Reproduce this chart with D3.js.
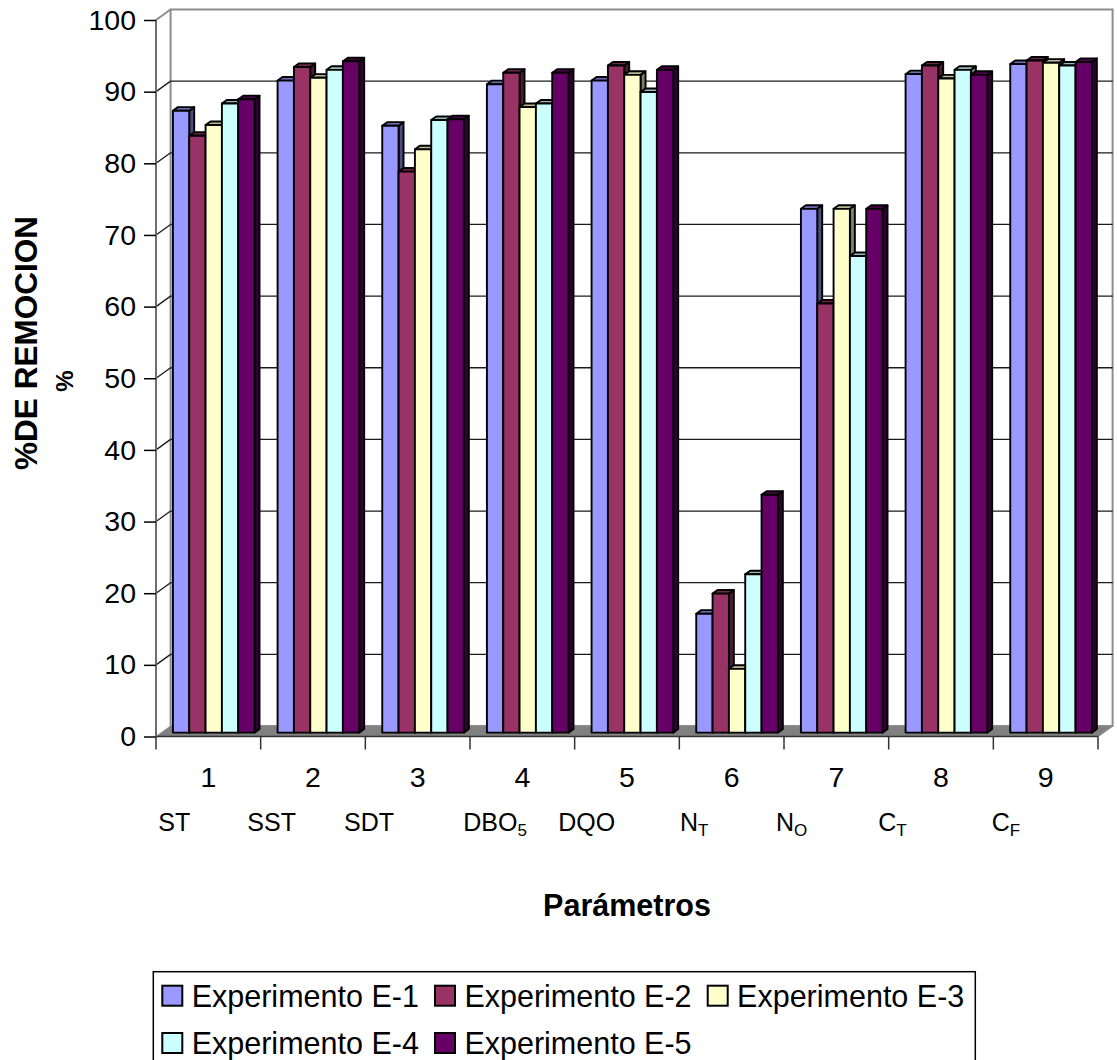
<!DOCTYPE html>
<html>
<head>
<meta charset="utf-8">
<script src="https://cdn.jsdelivr.net/npm/d3@7"></script>
<style>
  html, body { margin: 0; padding: 0; background: #fff; }
  svg { display: block; font-family: Arial, "Liberation Sans", sans-serif; }
</style>
</head>
<body>
<svg id="chart" width="1117" height="1060"></svg>
<script>
// Category numbers along the floor
const categories = ["1", "2", "3", "4", "5", "6", "7", "8", "9"];
// Parameter names written under each number: [main text, subscript]
const paramNames = [["ST", ""], ["SST", ""], ["SDT", ""], ["DBO", "5"], ["DQO", ""],
                    ["N", "T"], ["N", "O"], ["C", "T"], ["C", "F"]];
const seriesNames = ["Experimento E-1", "Experimento E-2", "Experimento E-3",
                     "Experimento E-4", "Experimento E-5"];
// % removal per experiment
const e1 = [86.8, 91.0, 84.7, 90.5, 91.0, 16.6, 73.1, 91.9, 93.3];
const e2 = [83.3, 92.9, 78.3, 92.1, 93.1, 19.4, 59.9, 93.1, 93.8];
const e3 = [84.8, 91.4, 81.4, 87.3, 91.8,  8.9, 73.1, 91.3, 93.5];
const e4 = [87.8, 92.5, 85.5, 87.8, 89.4, 22.1, 66.5, 92.5, 93.1];
const e5 = [88.4, 93.7, 85.6, 92.1, 92.5, 33.2, 73.1, 91.8, 93.6];
const yTicks = [0, 10, 20, 30, 40, 50, 60, 70, 80, 90, 100];

const seriesValues = [e1, e2, e3, e4, e5];
const seriesColors = ["#9999FF", "#993366", "#FFFFCC", "#CCFFFF", "#660066"];

// ---- layout ----
const FONT = 'Arial, "Liberation Sans", sans-serif';
const DX = 14.6, DY = -10.5;        // full depth offset of the 3D box
const barD0 = 0.37, barD1 = 0.71;   // bars occupy this slice of the depth
const paramLabelX = [158.3, 247.3, 344, 463.3, 558.3, 680, 776, 878.3, 991.7];

const svg = d3.select("#chart");

const x = d3.scaleBand().domain(categories).range([156, 1098]).paddingInner(0).paddingOuter(0);
const xi = d3.scaleBand().domain(seriesNames).range([0, x.bandwidth()])
  .paddingInner(0).paddingOuter(0.705);
const y = d3.scaleLinear().domain([0, 100]).range([736.5, 20]);

const x0 = x.range()[0], x1 = x.range()[1];
const pt = (px, py, d) => [px + d * DX, py + d * DY];
const poly = pts => pts.map(p => p.join(",")).join(" ");

// back wall
const bw = [pt(x0, y(100), 1), pt(x1, y(100), 1), pt(x1, y(0), 1), pt(x0, y(0), 1)];
svg.append("polygon").attr("points", poly(bw)).attr("fill", "#fff")
  .attr("stroke", "#8c8c8c").attr("stroke-width", 2);

// gridlines on back wall and left side wall
yTicks.filter(t => t > 0 && t < 100).forEach(t => {
  const a = pt(x0, y(t), 1), b = pt(x1, y(t), 1), f = pt(x0, y(t), 0);
  svg.append("line").attr("x1", a[0]).attr("y1", a[1]).attr("x2", b[0]).attr("y2", b[1])
    .attr("stroke", "#1a1a1a").attr("stroke-width", 1.3);
  svg.append("line").attr("x1", f[0]).attr("y1", f[1]).attr("x2", a[0]).attr("y2", a[1])
    .attr("stroke", "#1a1a1a").attr("stroke-width", 1.3);
});
// top edge of left wall
{
  const f = pt(x0, y(100), 0), a = pt(x0, y(100), 1);
  svg.append("line").attr("x1", f[0]).attr("y1", f[1]).attr("x2", a[0]).attr("y2", a[1])
    .attr("stroke", "#8c8c8c").attr("stroke-width", 2);
}

// floor
const floorPts = [pt(x0, y(0), 0), pt(x1, y(0), 0), pt(x1, y(0), 1), pt(x0, y(0), 1)];
svg.append("polygon").attr("points", poly(floorPts)).attr("fill", "#808080")
  .attr("stroke", "#8c8c8c").attr("stroke-width", 1);

// bars, drawn left to right so each bar hides its neighbour's side face
const shade = (c, k) => { const r = d3.rgb(c); return d3.rgb(r.r * k, r.g * k, r.b * k).toString(); };
const dd = barD1 - barD0;
const bars = [];
categories.forEach((c, ci) => {
  seriesNames.forEach((s, si) => {
    bars.push({ cat: c, series: s, value: seriesValues[si][ci], color: seriesColors[si] });
  });
});
const barG = svg.append("g");
bars.forEach(b => {
  const bx = x(b.cat) + xi(b.series) + barD0 * DX;
  const w = xi.bandwidth();
  const yt = y(b.value) + barD0 * DY;
  const yb = y(0) + barD0 * DY;
  const g = barG.append("g").attr("stroke", "#000").attr("stroke-width", 1.9)
    .attr("stroke-linejoin", "round");
  g.append("polygon").attr("fill", shade(b.color, 0.5))
    .attr("points", poly([[bx + w, yt], [bx + w + dd * DX, yt + dd * DY], [bx + w + dd * DX, yb + dd * DY], [bx + w, yb]]));
  g.append("polygon").attr("fill", shade(b.color, 0.72))
    .attr("points", poly([[bx, yt], [bx + w, yt], [bx + w + dd * DX, yt + dd * DY], [bx + dd * DX, yt + dd * DY]]));
  g.append("rect").attr("x", bx).attr("y", yt).attr("width", w).attr("height", yb - yt)
    .attr("fill", b.color);
});

// front vertical axis line
svg.append("line").attr("x1", x0).attr("y1", y(100)).attr("x2", x0).attr("y2", y(0))
  .attr("stroke", "#6e6e6e").attr("stroke-width", 2);

// value axis
const yAxis = svg.append("g").attr("transform", `translate(${x0},0)`)
  .call(d3.axisLeft(y).tickValues(yTicks).tickSize(12).tickPadding(8).tickSizeOuter(0));
yAxis.select(".domain").remove();
yAxis.selectAll(".tick line").attr("stroke", "#000").attr("stroke-width", 1.5);
yAxis.selectAll(".tick text").attr("font-size", 28.5).attr("font-family", FONT).attr("fill", "#000");

// category axis: front floor edge, boundary ticks, centred numbers
svg.append("line").attr("x1", x0).attr("y1", y(0)).attr("x2", x1).attr("y2", y(0))
  .attr("stroke", "#333").attr("stroke-width", 1.5);
{
  const r = pt(x1, y(0), 0), rb = pt(x1, y(0), 1);
  svg.append("line").attr("x1", r[0]).attr("y1", r[1]).attr("x2", rb[0]).attr("y2", rb[1])
    .attr("stroke", "#8c8c8c").attr("stroke-width", 1.5);
}
const bounds = categories.map(c => x(c)).concat([x1]);
svg.append("g").selectAll("line").data(bounds).join("line")
  .attr("x1", d => d).attr("x2", d => d).attr("y1", y(0)).attr("y2", y(0) + 13)
  .attr("stroke", "#333").attr("stroke-width", 1.5);
svg.append("g").selectAll("text").data(categories).join("text")
  .attr("x", d => x(d) + x.bandwidth() / 2).attr("y", 786.7)
  .attr("text-anchor", "middle").attr("font-size", 28.5).attr("font-family", FONT)
  .text(d => d);

// parameter names with subscripts
const pl = svg.append("g").attr("font-family", FONT).attr("fill", "#000");
paramNames.forEach((p, i) => {
  const t = pl.append("text").attr("x", paramLabelX[i]).attr("y", 830.7).attr("font-size", 25);
  t.append("tspan").text(p[0]);
  if (p[1]) t.append("tspan").attr("font-size", 17).attr("dy", 5).text(p[1]);
});

// axis titles
svg.append("text").attr("transform", "translate(37,343) rotate(-90)")
  .attr("text-anchor", "middle").attr("font-size", 31.5).attr("font-weight", "bold")
  .attr("font-family", FONT).text("%DE REMOCION");
svg.append("text").attr("transform", "translate(73,381) rotate(-90)")
  .attr("text-anchor", "middle").attr("font-size", 24).attr("font-weight", "bold")
  .attr("font-family", FONT).text("%");
svg.append("text").attr("x", 627).attr("y", 916).attr("text-anchor", "middle")
  .attr("font-size", 30.5).attr("font-weight", "bold").attr("font-family", FONT)
  .text("Parámetros");

// legend
const lg = svg.append("g");
lg.append("rect").attr("x", 153.3).attr("y", 971.7).attr("width", 822).attr("height", 120)
  .attr("fill", "#fff").attr("stroke", "#000").attr("stroke-width", 1.5);
seriesNames.forEach((s, i) => {
  const col = i % 3, row = Math.floor(i / 3);
  const lx = 162.3 + col * 272.7, ly = 985.7 + row * 47.3;
  lg.append("rect").attr("x", lx).attr("y", ly).attr("width", 20).attr("height", 20)
    .attr("fill", seriesColors[i]).attr("stroke", "#000").attr("stroke-width", 2);
  lg.append("text").attr("x", lx + 29.4).attr("y", ly + 21).attr("font-size", 30.5)
    .attr("font-family", FONT).text(s);
});
</script>
</body>
</html>
